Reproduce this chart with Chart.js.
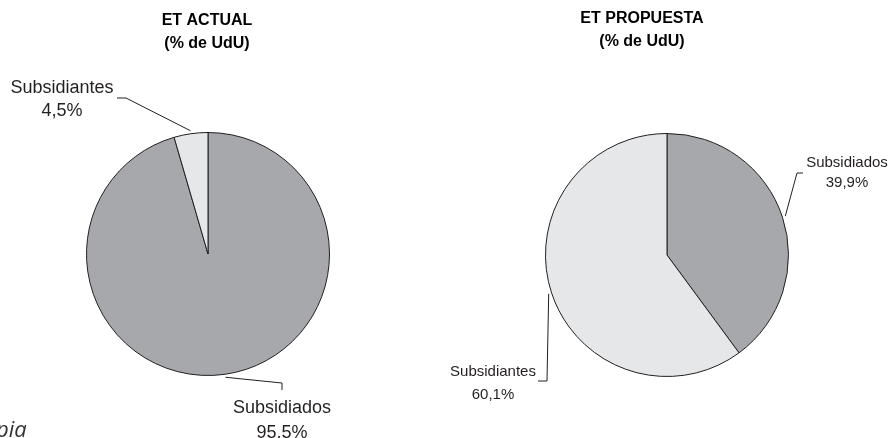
<!DOCTYPE html>
<html>
<head>
<meta charset="utf-8">
<script src="https://cdn.jsdelivr.net/npm/chart.js@4"></script>
<style>
body { margin: 0; background: #fff; }
#wrap { position: relative; width: 891px; height: 438px; overflow: hidden; }
canvas { position: absolute; top: 0; }
#note { position: absolute; left: -4px; top: 413px; font: italic 22px "Open Sans", sans-serif; color: #333; white-space: nowrap; }
</style>
</head>
<body>
<div id="wrap">
  <canvas id="pieActual" width="445" height="438" style="left:0"></canvas>
  <canvas id="piePropuesta" width="446" height="438" style="left:445px"></canvas>
  <div id="note">pia</div>
</div>
<script>
// Data
const categories = ['Subsidiados', 'Subsidiantes'];
const actualValues = [95.5, 4.5];
const propuestaValues = [39.9, 60.1];
const actualTitle = ['ET ACTUAL', '(% de UdU)'];
const propuestaTitle = ['ET PROPUESTA', '(% de UdU)'];

const sliceColors = ['#a7a8ab', '#e6e7e8'];
const inkColor = '#231f20';

const fmt = v => v.toFixed(1).replace('.', ',') + '%';

// Draws titles and the labels with leader lines
const pieLabels = {
    id: 'pieLabels',
    afterDraw(chart, args, opts) {
        const ctx = chart.ctx;
        const meta = chart.getDatasetMeta(0);
        const values = chart.data.datasets[0].data;
        ctx.save();
        ctx.fillStyle = '#000';
        ctx.textAlign = 'center';
        ctx.textBaseline = 'middle';
        ctx.font = 'bold 16px "Liberation Sans", Arial, sans-serif';
        opts.title.forEach((t, i) => ctx.fillText(t, opts.titleX, opts.titleY + i * 23));

        ctx.fillStyle = inkColor;
        ctx.strokeStyle = inkColor;
        ctx.lineWidth = 1;
        ctx.font = opts.labelSize + 'px "Liberation Sans", Arial, sans-serif';
        meta.data.forEach((arc, i) => {
            const lay = opts.layout[i];
            const p = arc.getProps(['x', 'y', 'startAngle', 'endAngle', 'outerRadius'], true);
            const mid = (p.startAngle + p.endAngle) / 2;
            const r = p.outerRadius + 3;
            ctx.beginPath();
            ctx.moveTo(p.x + Math.cos(mid) * r, p.y + Math.sin(mid) * r);
            ctx.lineTo(lay.elbow[0], lay.elbow[1]);
            ctx.lineTo(lay.end[0], lay.end[1]);
            ctx.stroke();
            ctx.fillText(chart.data.labels[i], lay.text[0], lay.text[1]);
            ctx.fillText(fmt(values[i]), lay.text[0], lay.text[1] + lay.lineGap);
        });
        ctx.restore();
    }
};

function makePie(id, values, title, padding, labelOpts) {
    return new Chart(document.getElementById(id), {
        type: 'pie',
        data: {
            labels: categories,
            datasets: [{
                data: values,
                backgroundColor: sliceColors,
                borderColor: inkColor,
                borderWidth: 1
            }]
        },
        options: {
            responsive: false,
            animation: false,
            layout: { padding: padding },
            plugins: {
                legend: { display: false },
                tooltip: { enabled: false },
                pieLabels: Object.assign({ title: title }, labelOpts)
            }
        },
        plugins: [pieLabels]
    });
}

makePie('pieActual', actualValues, actualTitle,
    { left: 86, right: 115, top: 132, bottom: 62 },
    {
        titleX: 207, titleY: 21, labelSize: 18,
        layout: [
            { elbow: [282, 383], end: [282, 390], text: [282, 408], lineGap: 25 },
            { elbow: [126, 98], end: [117, 98], text: [62, 88], lineGap: 23 }
        ]
    });

makePie('piePropuesta', propuestaValues, propuestaTitle,
    { left: 100, right: 102, top: 133, bottom: 61 },
    {
        titleX: 197, titleY: 19, labelSize: 15,
        layout: [
            { elbow: [352, 173], end: [358, 173], text: [402, 163], lineGap: 20 },
            { elbow: [102, 381], end: [93, 381], text: [48, 372], lineGap: 23 }
        ]
    });
</script>
</body>
</html>
